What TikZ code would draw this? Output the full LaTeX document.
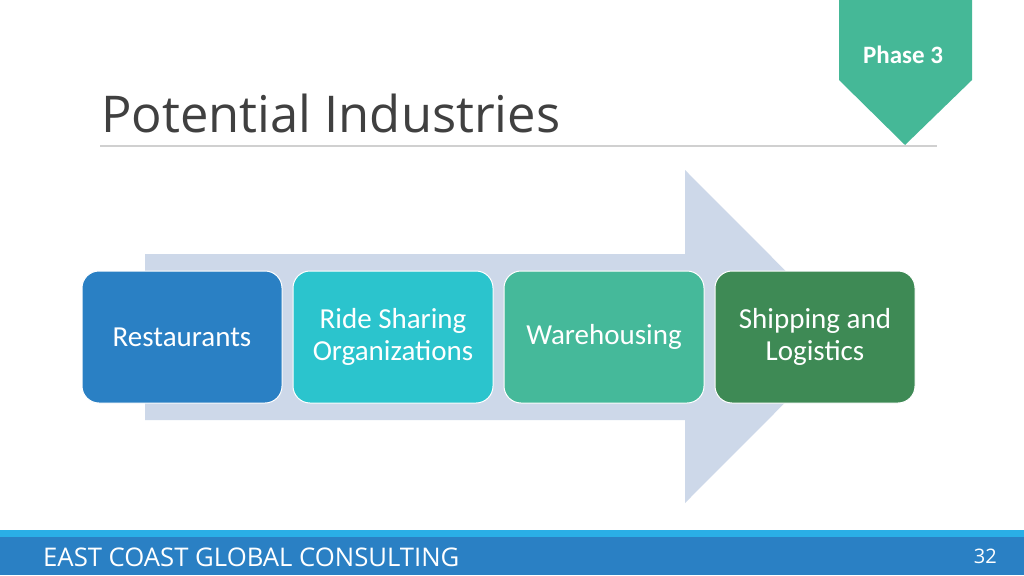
\documentclass[tikz,border=0pt]{standalone}
\usepackage{fontspec}
\setmainfont{Open Sans}
\newfontfamily\boxfont{Carlito}
\usetikzlibrary{positioning}
\definecolor{titlegray}{HTML}{404040}
\definecolor{rulegray}{HTML}{D0D0D0}
\definecolor{arrowblue}{HTML}{CDD8E9}
\definecolor{phasegreen}{HTML}{45B897}
\definecolor{boxblue}{HTML}{2A80C4}
\definecolor{boxcyan}{HTML}{2BC4CD}
\definecolor{boxteal}{HTML}{45B99A}
\definecolor{boxgreen}{HTML}{3E8A55}
\definecolor{barblue}{HTML}{2A80C4}
\definecolor{barlight}{HTML}{2AAEE6}

\tikzset{
  industry/.style={draw=white, line width=1pt, rounded corners=17pt,
    minimum width=200pt, minimum height=132pt, text=white,
    align=center, font=\boxfont\fontsize{29}{32}\selectfont},
}

\begin{document}
\begin{tikzpicture}[x=1pt, y=-1pt]
\useasboundingbox (0,0) rectangle (1024,575);
\fill[white] (0,0) rectangle (1024,575);
% phase tag
\fill[phasegreen] (839,0) -- (972,0) -- (972,80) -- (905,145) -- (839,80) -- cycle;
\node[text=white, font=\boxfont\bfseries\fontsize{25}{30}\selectfont] (phase) at (903,55) {Phase 3};
% title
\node[anchor=base west, inner sep=0pt, text=titlegray, font=\fontsize{50.7}{60}\selectfont] (title) at (101,132) {Potential Industries};
\draw[rulegray, line width=1.5pt] (100,146) -- (937,146);
% big arrow
\fill[arrowblue] (145,254) -- (685,254) -- (685,170) -- (851,336.5) -- (685,503) -- (685,420) -- (145,420) -- cycle;
% boxes
\node[industry, fill=boxblue] (rest) at (182,337) {Restaurants};
\node[industry, fill=boxcyan, right=10pt of rest] (ride) {Ride Sharing\\Organizations};
\node[industry, fill=boxteal, right=10pt of ride] (ware) {Warehousing};
\node[industry, fill=boxgreen, right=10pt of ware] (ship) {Shipping and\\Logistics};
% footer
\fill[barlight] (0,530) rectangle (1024,537);
\fill[barblue] (0,537) rectangle (1024,575);
\node[anchor=base west, inner sep=0pt, text=white, font=\fontsize{25.7}{30}\selectfont] (firm) at (43,566) {EAST COAST GLOBAL CONSULTING};
\node[anchor=base east, inner sep=0pt, text=white, font=\fontsize{20}{24}\selectfont] (page) at (997,563) {32};
\end{tikzpicture}
\end{document}
